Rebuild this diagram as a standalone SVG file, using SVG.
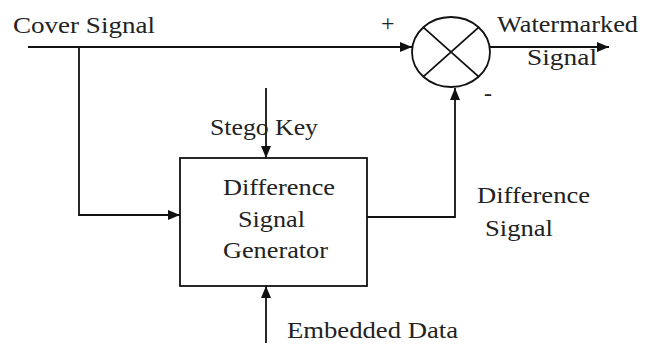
<svg xmlns="http://www.w3.org/2000/svg" width="655" height="347" viewBox="0 0 655 347">
<defs>
<style>
text{font-family:'Liberation Serif','DejaVu Serif',serif;font-size:24px;fill:#222}
.ln{fill:none;stroke:#111;stroke-width:1.8}
</style>
<marker id="ah" viewBox="0 0 12 10" refX="12" refY="5" markerWidth="12" markerHeight="10" markerUnits="userSpaceOnUse" orient="auto">
<path d="M0,0 L12,5 L0,10 Z" fill="#111"/>
</marker>
</defs>
<rect width="655" height="347" fill="#fff"/>
<g id="connectors">
<path class="ln" d="M28,47 H412" marker-end="url(#ah)"/>
<path class="ln" d="M79,47 V215 H180" marker-end="url(#ah)"/>
<path class="ln" d="M490,47 H609" marker-end="url(#ah)"/>
<path class="ln" d="M266,88 V158" marker-end="url(#ah)"/>
<path class="ln" d="M266,343 V286" marker-end="url(#ah)"/>
<path class="ln" d="M367,217 H455 V88" marker-end="url(#ah)"/>
</g>
<g id="cover-label"><text x="13" y="33" font-family="Liberation Serif" textLength="142" lengthAdjust="spacingAndGlyphs">Cover Signal</text></g>
<g id="plus"><text x="381" y="31" font-family="Liberation Serif">+</text></g>
<g id="minus"><text x="484" y="101" font-family="Liberation Serif">-</text></g>
<g id="watermarked-label">
<text x="497" y="32" font-family="Liberation Serif" textLength="141" lengthAdjust="spacingAndGlyphs">Watermarked</text>
<text x="527" y="65" font-family="Liberation Serif" textLength="70" lengthAdjust="spacingAndGlyphs">Signal</text>
</g>
<g id="stego-key"><text x="210" y="135" font-family="Liberation Serif" textLength="108" lengthAdjust="spacingAndGlyphs">Stego Key</text></g>
<g id="generator">
<rect class="ln" x="180" y="158" width="187" height="128"/>
<text x="223" y="195" font-family="Liberation Serif" textLength="112" lengthAdjust="spacingAndGlyphs">Difference</text>
<text x="238" y="227" font-family="Liberation Serif" textLength="67" lengthAdjust="spacingAndGlyphs">Signal</text>
<text x="223" y="258" font-family="Liberation Serif" textLength="105" lengthAdjust="spacingAndGlyphs">Generator</text>
</g>
<g id="difference-label">
<text x="477" y="203" font-family="Liberation Serif" textLength="113" lengthAdjust="spacingAndGlyphs">Difference</text>
<text x="485" y="236" font-family="Liberation Serif" textLength="68" lengthAdjust="spacingAndGlyphs">Signal</text>
</g>
<g id="embedded-data"><text x="287" y="338" font-family="Liberation Serif" textLength="171" lengthAdjust="spacingAndGlyphs">Embedded Data</text></g>
<g id="mixer">
<ellipse class="ln" cx="451" cy="52" rx="39" ry="35"/>
<path class="ln" d="M423.4,27.3 L478.6,76.7 M478.6,27.3 L423.4,76.7" stroke-width="1.3"/>
</g>
</svg>
